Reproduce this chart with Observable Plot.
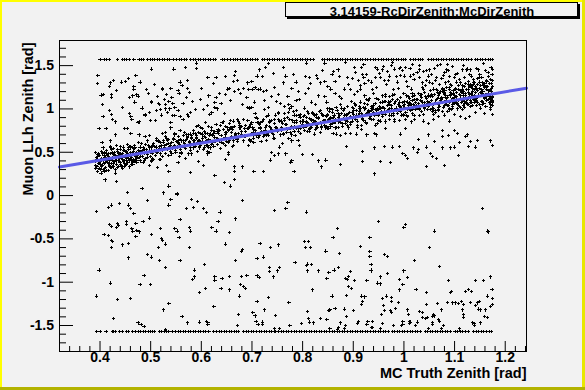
<!DOCTYPE html>
<html><head><meta charset="utf-8">
<script src="https://cdn.jsdelivr.net/npm/d3@7"></script>
<script src="https://cdn.jsdelivr.net/npm/@observablehq/plot@0.6"></script>
<style>body{margin:0;background:#f2f2f2;} #chart{width:585px;height:390px;}</style>
</head><body><div id="chart"></div>
<script>
// ---- data (MC truth zenith x, reconstructed zenith y, rad) ----
const upperRowX = [0.400,0.408,0.413,0.418,0.435,0.444,0.448,0.452,0.458,0.467,0.477,0.481,0.485,0.494,0.499,0.503,0.507,0.513,0.518,0.523,0.528,0.533,0.538,0.546,0.551,0.556,0.561,0.566,0.571,0.579,0.584,0.589,0.594,0.599,0.604,0.609,0.614,0.619,0.624,0.628,0.641,0.646,0.651,0.658,0.663,0.668,0.672,0.677,0.682,0.687,0.692,0.697,0.702,0.707,0.711,0.720,0.725,0.730,0.735,0.740,0.745,0.750,0.755,0.760,0.765,0.770,0.775,0.780,0.785,0.790,0.795,0.800,0.805,0.810,0.815,0.821,0.839,0.844,0.849,0.854,0.859,0.864,0.869,0.874,0.879,0.884,0.889,0.894,0.899,0.904,0.909,0.914,0.919,0.924,0.929,0.934,0.939,0.944,0.950,0.955,0.960,0.965,0.970,0.975,0.980,0.985,0.990,0.995,1.000,1.003,1.013,1.018,1.023,1.028,1.033,1.036,1.049,1.054,1.059,1.064,1.069,1.074,1.079,1.084,1.089,1.094,1.098,1.103,1.108,1.113,1.118,1.123,1.128,1.133,1.141,1.146,1.151,1.156,1.161,1.166,1.171,1.175];
const lowerRowX = [0.393,0.400,0.412,0.424,0.427,0.430,0.438,0.444,0.452,0.456,0.465,0.470,0.475,0.480,0.485,0.490,0.495,0.500,0.504,0.507,0.517,0.522,0.527,0.532,0.536,0.544,0.549,0.554,0.559,0.564,0.569,0.574,0.579,0.584,0.589,0.594,0.599,0.604,0.609,0.615,0.625,0.630,0.635,0.640,0.645,0.650,0.655,0.660,0.665,0.669,0.674,0.684,0.689,0.694,0.699,0.704,0.709,0.714,0.719,0.724,0.729,0.734,0.739,0.744,0.747,0.753,0.758,0.763,0.768,0.773,0.778,0.783,0.788,0.793,0.798,0.803,0.808,0.813,0.818,0.823,0.828,0.833,0.838,0.843,0.848,0.853,0.858,0.863,0.868,0.873,0.878,0.883,0.888,0.894,0.899,0.904,0.909,0.914,0.919,0.924,0.929,0.934,0.939,0.944,0.949,0.954,0.959,0.964,0.970,0.977,0.982,0.987,0.992,0.997,1.002,1.007,1.012,1.017,1.022,1.027,1.032,1.042,1.047,1.052,1.057,1.062,1.067,1.072,1.077,1.082,1.087,1.092,1.101,1.106,1.111,1.116,1.121,1.128,1.138,1.143,1.148,1.153,1.158,1.163,1.168,1.173];
const rowY = [1.5708, -1.5708];

const scatterLow = [[0.552,0.01],[0.423,-0.11],[0.416,-0.14],[0.438,-0.09],[0.456,-0.11],[0.460,-0.15],[0.393,-0.18],[0.467,-0.21],[0.493,-0.06],[0.540,-0.05],[0.536,-0.11],[0.580,-0.05],[0.592,-0.07],[0.570,-0.15],[0.584,-0.14],[0.605,-0.15],[0.611,-0.20],[0.637,-0.19],[0.682,-0.06],[0.745,-0.17],[0.771,-0.08],[0.767,-0.15],[0.497,-0.26],[0.485,-0.30],[0.452,-0.30],[0.452,-0.33],[0.471,-0.32],[0.418,-0.33],[0.434,-0.32],[0.436,-0.34],[0.422,-0.36],[0.432,-0.37],[0.463,-0.38],[0.465,-0.41],[0.473,-0.40],[0.477,-0.42],[0.471,-0.47],[0.408,-0.45],[0.416,-0.465],[0.422,-0.52],[0.424,-0.53],[0.422,-0.60],[0.444,-0.57],[0.456,-0.55],[0.501,-0.45],[0.519,-0.38],[0.548,-0.38],[0.552,-0.41],[0.556,-0.48],[0.558,-0.28],[0.576,-0.37],[0.578,-0.41],[0.621,-0.37],[0.629,-0.41],[0.633,-0.30],[0.655,-0.43],[0.668,-0.27],[0.521,-0.50],[0.523,-0.52],[0.529,-0.56],[0.515,-0.60],[0.576,-0.60],[0.647,-0.56],[0.716,-0.55],[0.737,-0.60],[0.753,-0.57],[0.682,-0.62],[0.680,-0.64],[0.456,-0.72],[0.493,-0.68],[0.501,-0.71],[0.517,-0.75],[0.558,-0.75],[0.529,-0.83],[0.398,-0.86],[0.668,-0.75],[0.710,-0.73],[0.722,-0.71],[0.785,-0.77],[0.735,-0.83],[0.735,-0.88],[0.751,-0.87],[0.755,-0.83],[0.743,-0.94],[0.607,-0.80],[0.586,-0.86],[0.586,-0.94],[0.582,-0.97],[0.487,-0.92],[0.420,-1.01],[0.479,-1.03],[0.499,-1.03],[0.609,-1.07],[0.627,-0.94],[0.627,-0.98],[0.641,-0.96],[0.655,-0.93],[0.639,-1.07],[0.655,-1.09],[0.678,-1.03],[0.684,-1.05],[0.688,-1.07],[0.680,-0.93],[0.690,-0.92],[0.710,-0.92],[0.714,-0.95],[0.676,-1.16],[0.597,-1.12],[0.393,-1.16],[0.434,-1.20],[0.460,-1.19],[0.526,-1.32],[0.536,-1.25],[0.426,-1.42],[0.475,-1.47],[0.481,-1.49],[0.487,-1.51],[0.562,-1.40],[0.572,-1.47],[0.596,-1.46],[0.611,-1.45],[0.613,-1.47],[0.613,-1.49],[0.625,-1.28],[0.674,-1.37],[0.672,-1.50],[0.702,-1.35],[0.706,-1.39],[0.710,-1.22],[0.724,-1.32],[0.732,-1.18],[0.773,-1.23],[0.747,-1.38],[0.708,-1.45],[0.712,-1.49],[0.720,-1.46],[0.720,-1.49],[0.745,-1.53],[0.755,-1.53],[0.775,-1.50],[0.530,-1.55],
[0.808,-0.19],[1.155,-0.15],[1.000,-0.37],[1.003,-0.33],[0.950,-0.30],[0.869,-0.38],[0.860,-0.48],[0.804,-0.53],[0.812,-0.53],[0.806,-0.60],[0.816,-0.60],[1.061,-0.41],[1.165,-0.41],[1.167,-0.42],[0.846,-0.64],[0.873,-0.67],[0.933,-0.48],[0.915,-0.59],[0.933,-0.65],[0.933,-0.70],[0.962,-0.68],[0.968,-0.70],[1.051,-0.60],[1.021,-0.75],[1.070,-0.82],[0.810,-0.79],[0.808,-0.81],[0.818,-0.80],[0.810,-0.87],[0.832,-0.87],[0.852,-0.89],[0.862,-0.86],[0.871,-0.83],[0.895,-0.88],[0.891,-0.93],[0.885,-0.96],[0.889,-0.97],[0.903,-0.98],[0.935,-0.80],[0.935,-0.86],[0.936,-0.87],[0.927,-0.98],[0.948,-1.01],[0.954,-0.94],[0.954,-1.02],[0.968,-0.90],[1.000,-0.87],[0.992,-0.97],[0.998,-1.03],[0.992,-1.09],[1.007,-0.95],[1.024,-1.08],[0.848,-0.96],[0.820,-1.09],[0.858,-1.16],[0.887,-1.15],[0.891,-1.05],[0.897,-1.07],[0.917,-1.16],[0.923,-1.17],[0.919,-1.22],[0.917,-1.26],[0.958,-1.19],[0.966,-1.16],[0.976,-1.18],[0.976,-1.22],[0.984,-1.30],[0.960,-1.27],[0.962,-1.33],[0.956,-1.37],[0.974,-1.33],[0.976,-1.35],[0.990,-1.23],[1.007,-1.32],[1.009,-1.37],[1.031,-1.34],[1.037,-1.35],[1.045,-1.26],[1.045,-1.12],[1.067,-1.25],[1.074,-1.32],[1.088,-0.98],[1.094,-1.11],[1.092,-1.12],[1.086,-1.23],[1.096,-1.24],[1.102,-1.24],[1.108,-1.25],[1.114,-1.22],[1.118,-1.26],[1.116,-1.32],[1.118,-1.37],[1.122,-1.11],[1.128,-1.08],[1.134,-1.11],[1.141,-0.98],[1.132,-1.23],[1.141,-1.27],[1.145,-1.24],[1.149,-1.22],[1.147,-1.31],[1.151,-1.32],[1.157,-0.98],[1.161,-1.32],[1.165,-1.16],[1.171,-1.28],[1.175,-1.26],[1.175,-1.19],[1.174,-1.08],[1.171,-0.94],[1.159,-1.40],[1.165,-1.41],[1.151,-1.47],[1.139,-1.48],[1.139,-1.50],[1.135,-1.47],[1.118,-1.41],[1.110,-1.54],[1.078,-1.50],[1.074,-1.53],[1.068,-1.43],[1.070,-1.45],[1.059,-1.37],[1.057,-1.40],[1.061,-1.39],[1.057,-1.47],[1.057,-1.49],[1.047,-1.41],[1.043,-1.42],[1.037,-1.41],[1.049,-1.53],[1.027,-1.46],[1.023,-1.50],[1.011,-1.45],[1.011,-1.48],[0.998,-1.45],[0.998,-1.49],[0.996,-1.50],[1.013,-1.46],[0.980,-1.50],[0.958,-1.48],[0.938,-1.45],[0.929,-1.45],[0.936,-1.52],[0.938,-1.52],[0.927,-1.49],[0.911,-1.45],[0.909,-1.48],[0.901,-1.33],[0.883,-1.31],[0.887,-1.40],[0.871,-1.52],[0.875,-1.47],[0.883,-1.53],[0.885,-1.50],[0.864,-1.30],[0.852,-1.33],[0.854,-1.32],[0.848,-1.43],[0.836,-1.42],[0.822,-1.47],[0.814,-1.46],[0.812,-1.42],[0.810,-1.34],[0.798,-1.48],[0.854,-1.54],[0.869,-1.55],[0.954,-1.53]];

const scatterHigh = [[0.590,1.53],[0.590,1.47],[0.501,1.46],[0.546,1.46],[0.568,1.48],[0.396,1.39],[0.471,1.39],[0.395,1.29],[0.420,1.30],[0.426,1.33],[0.418,1.26],[0.442,1.31],[0.450,1.32],[0.456,1.35],[0.467,1.26],[0.467,1.23],[0.479,1.31],[0.491,1.22],[0.523,1.24],[0.523,1.22],[0.540,1.24],[0.554,1.21],[0.558,1.31],[0.572,1.33],[0.572,1.24],[0.613,1.36],[0.629,1.36],[0.647,1.37],[0.665,1.39],[0.663,1.32],[0.672,1.33],[0.700,1.32],[0.710,1.38],[0.720,1.37],[0.726,1.48],[0.732,1.52],[0.763,1.48],[0.743,1.41],[0.767,1.38],[0.779,1.24],[0.787,1.31],[0.402,1.16],[0.406,1.17],[0.422,1.17],[0.422,1.13],[0.458,1.13],[0.465,1.15],[0.473,1.17],[0.475,1.14],[0.501,1.09],[0.501,1.07],[0.513,1.14],[0.515,1.06],[0.527,1.11],[0.529,1.05],[0.536,1.09],[0.542,1.13],[0.544,1.06],[0.556,1.18],[0.564,1.06],[0.570,1.13],[0.582,1.09],[0.599,1.11],[0.615,1.15],[0.629,1.13],[0.627,1.07],[0.639,1.06],[0.647,1.17],[0.651,1.23],[0.655,1.24],[0.666,1.20],[0.674,1.22],[0.678,1.18],[0.684,1.24],[0.690,1.13],[0.694,1.22],[0.702,1.22],[0.706,1.25],[0.712,1.22],[0.716,1.23],[0.722,1.20],[0.724,1.10],[0.728,1.21],[0.739,1.14],[0.749,1.09],[0.753,1.17],[0.757,1.06],[0.765,1.03],[0.773,1.05],[0.779,1.03],[0.787,1.10],[0.793,1.11],[0.406,0.91],[0.422,0.94],[0.424,0.88],[0.430,0.85],[0.448,0.77],[0.454,0.77],[0.461,0.91],[0.463,0.88],[0.475,0.84],[0.477,0.85],[0.489,0.94],[0.489,0.92],[0.497,0.96],[0.499,0.87],[0.509,0.87],[0.511,0.98],[0.519,0.99],[0.521,0.93],[0.529,1.00],[0.534,0.96],[0.538,1.00],[0.540,0.84],[0.544,0.92],[0.548,0.92],[0.554,0.98],[0.558,0.91],[0.564,0.88],[0.572,0.94],[0.574,0.91],[0.578,0.96],[0.590,0.80],[0.594,0.81],[0.599,0.79],[0.605,0.99],[0.609,0.84],[0.617,0.94],[0.621,0.96],[0.627,1.02],[0.631,1.00],[0.641,0.84],[0.647,0.80],[0.657,0.87],[0.659,0.79],[0.665,0.80],[0.672,0.88],[0.676,0.83],[0.688,0.81],[0.692,1.02],[0.696,1.01],[0.700,1.02],[0.706,0.95],[0.710,0.84],[0.722,0.88],[0.724,0.99],[0.734,0.80],[0.745,0.83],[0.755,0.87],[0.765,0.87],[0.775,1.00],[0.783,0.93],[0.787,0.87],
[0.808,1.53],[0.844,1.53],[0.885,1.54],[0.903,1.48],[0.917,1.48],[0.921,1.51],[0.944,1.48],[0.948,1.46],[0.958,1.45],[0.968,1.43],[0.978,1.54],[0.982,1.46],[0.994,1.48],[1.003,1.48],[1.017,1.51],[1.031,1.45],[1.039,1.43],[1.051,1.45],[1.061,1.47],[1.072,1.51],[1.084,1.45],[1.086,1.51],[1.126,1.46],[1.132,1.45],[1.157,1.52],[0.806,1.37],[0.814,1.36],[0.828,1.39],[0.830,1.35],[0.844,1.32],[0.850,1.26],[0.864,1.32],[0.873,1.37],[0.899,1.35],[0.911,1.33],[0.921,1.36],[0.923,1.29],[0.936,1.31],[0.944,1.36],[0.954,1.36],[0.962,1.33],[0.972,1.38],[0.986,1.37],[0.994,1.39],[1.001,1.38],[1.013,1.38],[1.019,1.40],[1.031,1.36],[1.037,1.30],[1.045,1.33],[1.051,1.31],[1.065,1.36],[1.078,1.39],[1.088,1.32],[1.100,1.36],[1.104,1.31],[1.112,1.30],[1.120,1.36],[1.128,1.32],[1.132,1.28],[1.141,1.26],[1.149,1.36],[1.163,1.33],[1.175,1.33],[0.806,1.18],[0.818,1.08],[0.832,1.15],[0.844,1.14],[0.856,1.23],[0.864,1.18],[0.873,1.14],[0.883,1.23],[0.895,1.22],[0.903,1.17],[0.915,1.23],[0.923,1.15],[0.927,1.11],[0.940,1.18],[0.950,1.11],[0.964,1.17],[0.972,1.14],[0.982,1.17],[0.990,1.24],[1.000,1.18],[1.009,1.14],[1.015,1.23],[1.021,1.11],[1.033,1.16],[1.039,1.22],[1.049,1.16],[1.059,1.23],[1.067,1.21],[1.076,1.23],[1.082,1.30],[1.092,1.28],[1.098,1.18],[1.108,1.22],[1.118,1.20],[1.128,1.23],[1.136,1.24],[1.145,1.28],[1.153,1.22],[1.163,1.26],[1.173,1.24],[1.175,1.26],[1.174,1.10],
[0.905,1.42],[0.915,1.27],[0.926,1.40],[0.938,1.22],[0.952,1.41],[0.965,1.28],[0.976,1.50],[0.988,1.31],[0.997,1.44],[1.008,1.26],[1.020,1.34],[1.030,1.50],[1.042,1.27],[1.054,1.40],[1.062,1.33],[1.071,1.28],[1.081,1.42],[1.090,1.37],[1.096,1.49],[1.106,1.41],[1.115,1.45],[1.122,1.29],[1.130,1.40],[1.137,1.34],[1.144,1.47],[1.150,1.40],[1.156,1.30],[1.161,1.44],[1.167,1.37],[1.172,1.48],[1.174,1.40],[1.169,1.29],[1.146,1.35],[1.118,1.50],[1.085,1.25],[1.048,1.38],[1.012,1.47],[0.960,1.49],[0.930,1.33],[0.870,1.45],[0.840,1.44],[0.815,1.29],[0.858,1.40],[0.890,1.28],
[0.405,1.05],[0.418,0.98],[0.432,1.21],[0.445,1.02],[0.458,0.95],[0.469,1.08],[0.483,1.01],[0.495,1.18],[0.507,1.28],[0.518,1.05],[0.531,1.17],[0.548,1.02],[0.562,1.27],[0.577,1.19],[0.588,0.99],[0.601,1.24],[0.612,1.04],[0.624,1.29],[0.636,1.18],[0.645,0.95],[0.658,1.10],[0.668,1.43],[0.681,1.05],[0.692,1.30],[0.705,1.08],[0.715,1.45],[0.733,1.02],[0.744,1.25],[0.752,0.96],[0.762,1.30],[0.771,1.14],[0.782,1.40],[0.792,1.20],[0.803,1.01],[0.811,1.24],[0.826,1.05],[0.835,1.30],[0.848,1.08],[0.861,1.43],[0.877,1.12],[0.888,1.36],[0.897,1.09],[0.908,1.20],[0.919,1.40],[0.932,1.12],[0.946,1.25],[0.957,1.15],[0.969,1.33],[0.979,1.22],[0.992,1.47],[1.005,1.32],[1.016,1.18],[1.026,1.42],[1.036,1.25],[1.045,1.44],[1.057,1.29],[1.066,1.50],[1.075,1.35],[1.088,1.44],[1.094,1.27],[1.102,1.40],[1.110,1.34],[1.116,1.27],[1.124,1.45],[1.134,1.38],[1.140,1.30],[1.148,1.45],[1.154,1.36],[1.160,1.29],[1.166,1.42],[1.171,1.34],[1.175,1.46]];

const bandPts = [[0.398,0.77],[0.412,0.77],[0.430,0.70],[0.461,0.72],[0.477,0.70],[0.489,0.68],[0.497,0.69],[0.523,0.72],[0.529,0.73],[0.540,0.78],[0.548,0.72],[0.558,0.75],[0.570,0.70],[0.578,0.71],[0.580,0.69],[0.590,0.66],[0.599,0.72],[0.603,0.70],[0.613,0.72],[0.621,0.75],[0.633,0.72],[0.640,0.65],[0.649,0.73],[0.653,0.75],[0.661,0.76],[0.674,0.72],[0.686,0.77],[0.694,0.78],[0.702,0.79],[0.716,0.77],[0.726,0.75],[0.739,0.73],[0.749,0.77],[0.759,0.75],[0.769,0.73],[0.781,0.78],[0.791,0.79],[0.785,0.69],[0.779,0.63],[0.761,0.60],[0.755,0.56],[0.745,0.66],[0.728,0.64],[0.714,0.69],[0.704,0.61],[0.696,0.64],[0.686,0.69],[0.672,0.65],[0.661,0.57],[0.653,0.50],[0.647,0.58],[0.635,0.63],[0.625,0.57],[0.613,0.58],[0.605,0.53],[0.597,0.57],[0.590,0.60],[0.584,0.63],[0.576,0.61],[0.568,0.64],[0.558,0.65],[0.554,0.61],[0.546,0.56],[0.542,0.61],[0.534,0.64],[0.527,0.58],[0.519,0.61],[0.511,0.64],[0.503,0.58],[0.497,0.57],[0.487,0.53],[0.479,0.56],[0.473,0.50],[0.467,0.54],[0.461,0.57],[0.456,0.55],[0.450,0.51],[0.444,0.49],[0.436,0.48],[0.428,0.50],[0.422,0.53],[0.416,0.49],[0.408,0.46],[0.402,0.42],[0.396,0.47],[0.391,0.50],[0.404,0.61],[0.420,0.63],[0.440,0.57],
[0.398,0.31],[0.408,0.28],[0.410,0.18],[0.430,0.26],[0.420,0.33],[0.448,0.34],[0.460,0.42],[0.473,0.38],[0.485,0.38],[0.497,0.35],[0.501,0.40],[0.513,0.32],[0.519,0.42],[0.531,0.35],[0.536,0.28],[0.554,0.38],[0.568,0.43],[0.578,0.27],[0.580,0.48],[0.594,0.39],[0.605,0.35],[0.613,0.48],[0.617,0.50],[0.627,0.23],[0.647,0.42],[0.653,0.47],[0.666,0.28],[0.666,0.19],[0.665,0.33],[0.682,0.33],[0.704,0.28],[0.722,0.28],[0.737,0.41],[0.745,0.46],[0.753,0.48],[0.767,0.48],[0.777,0.38],[0.779,0.40],[0.783,0.28],[0.739,0.50],[0.432,0.16],[0.454,0.04],[0.483,0.08],[0.525,0.03],[0.536,0.11],[0.552,0.02],[0.645,0.15],[0.657,0.11],
[0.795,0.94],[0.802,0.91],[0.812,0.95],[0.820,0.96],[0.828,0.94],[0.836,0.98],[0.848,0.92],[0.854,1.00],[0.866,1.02],[0.875,1.05],[0.883,1.00],[0.889,0.94],[0.901,1.00],[0.905,1.05],[0.913,1.01],[0.921,1.02],[0.931,0.98],[0.938,1.02],[0.950,0.99],[0.958,1.02],[0.964,1.09],[0.972,1.00],[0.980,0.93],[0.986,0.98],[0.994,1.03],[1.001,1.05],[1.011,1.07],[1.017,1.00],[1.027,1.03],[1.035,1.09],[1.041,1.00],[1.047,1.06],[1.057,1.01],[1.063,0.96],[1.068,1.02],[1.074,1.07],[1.082,1.09],[1.090,0.99],[1.096,1.05],[1.104,1.06],[1.114,1.11],[1.120,1.06],[1.128,1.05],[1.134,1.08],[1.145,1.07],[1.155,1.05],[1.167,1.11],[1.175,1.13],[1.175,1.07],[1.175,0.94],[1.171,0.99],[1.159,0.95],[1.151,1.01],[1.141,0.96],[1.130,0.91],[1.122,0.89],[1.112,0.91],[1.100,0.94],[1.090,0.86],[1.080,0.93],[1.068,0.91],[1.059,0.88],[1.049,0.83],[1.039,0.86],[1.031,0.92],[1.021,0.88],[1.015,0.85],[1.007,0.91],[1.000,0.92],[0.992,0.87],[0.982,0.86],[0.972,0.88],[0.964,0.85],[0.954,0.86],[0.944,0.81],[0.935,0.88],[0.925,0.84],[0.917,0.81],[0.909,0.79],[0.899,0.86],[0.889,0.81],[0.879,0.80],[0.871,0.85],[0.864,0.78],[0.856,0.80],[0.848,0.80],[0.838,0.83],[0.828,0.81],[0.818,0.79],[0.808,0.84],[0.800,0.86],[0.795,0.77],[0.804,0.75],[0.814,0.76],[0.824,0.71],[0.836,0.73],[0.850,0.77],[0.860,0.72],[0.867,0.71],[0.875,0.69],[0.885,0.72],[0.895,0.72],[0.907,0.71],[0.917,0.76],[0.927,0.70],[0.942,0.72],[0.946,0.70],[0.964,0.77],[0.994,0.71],[1.003,0.77],[1.029,0.65],[1.045,0.56],[1.049,0.70],[1.061,0.62],[1.053,0.49],[1.057,0.45],[1.076,0.75],[1.076,0.68],[1.088,0.69],[1.100,0.75],[1.106,0.72],[1.122,0.68],[1.126,0.70],[1.145,0.64],[1.132,0.62],[1.110,0.61],[1.100,0.56],[1.092,0.55],[1.076,0.55],[1.065,0.43],[1.045,0.34],[1.080,0.35],[1.108,0.46],[1.128,0.57],[1.141,0.56],[1.171,0.63],[1.175,0.58],[0.791,0.64],[0.800,0.47],[0.820,0.47],[0.832,0.40],[0.846,0.41],[0.838,0.33],[0.875,0.36],[0.887,0.57],[0.919,0.51],[0.919,0.39],[0.942,0.55],[0.942,0.25],[0.954,0.39],[0.962,0.57],[0.974,0.38],[0.978,0.56],[0.992,0.57],[0.998,0.49],[1.003,0.46],[1.007,0.43],[1.019,0.55],[1.027,0.50],[1.029,0.53],[0.794,0.58]];

const corePts = [[0.391,0.39],[0.393,0.44],[0.394,0.33],[0.396,0.41],[0.397,0.37],[0.399,0.46],[0.400,0.30],[0.401,0.39],[0.403,0.43],[0.404,0.35],[0.405,0.48],[0.407,0.40],[0.408,0.37],[0.410,0.44],[0.411,0.32],[0.412,0.41],[0.414,0.38],[0.415,0.46],[0.417,0.43],[0.418,0.35],[0.419,0.40],[0.421,0.49],[0.422,0.37],[0.424,0.44],[0.425,0.41],[0.426,0.33],[0.428,0.47],[0.429,0.39],[0.431,0.43],[0.432,0.36],[0.434,0.45],[0.435,0.51],[0.437,0.40],[0.438,0.43],[0.440,0.38],[0.441,0.47],[0.443,0.34],[0.444,0.42],[0.446,0.45],[0.447,0.39],[0.449,0.52],[0.450,0.44],[0.452,0.41],[0.453,0.36],[0.455,0.48],[0.456,0.43],[0.458,0.46],[0.459,0.40],[0.461,0.50],[0.462,0.44],[0.464,0.38],[0.465,0.47],[0.467,0.42],[0.468,0.54],[0.470,0.45],[0.471,0.49],[0.473,0.41],[0.474,0.46],[0.476,0.52],[0.477,0.44],[0.479,0.48],
[0.395,0.28],[0.402,0.26],[0.409,0.31],[0.416,0.29],[0.423,0.32],[0.430,0.30],[0.437,0.34],[0.444,0.31],[0.451,0.35],[0.458,0.33],[0.465,0.36],[0.406,0.55],[0.413,0.52],[0.420,0.57],[0.427,0.54],[0.433,0.58],[0.440,0.53],[0.447,0.56],[0.454,0.59],[0.461,0.55],[0.468,0.58],
[0.481,0.51],[0.483,0.45],[0.485,0.55],[0.487,0.49],[0.489,0.43],[0.491,0.53],[0.493,0.47],[0.495,0.58],[0.497,0.51],[0.499,0.45],[0.501,0.55],[0.503,0.49],[0.505,0.60],[0.507,0.52],[0.509,0.46],[0.511,0.56],[0.513,0.50],[0.515,0.62],[0.517,0.54],[0.519,0.48],[0.521,0.58],[0.523,0.52],[0.525,0.63],[0.527,0.55],[0.529,0.49],[0.531,0.59],[0.533,0.53],[0.535,0.65],[0.537,0.57],[0.539,0.51],[0.541,0.61],[0.543,0.55],[0.545,0.66],[0.547,0.58],[0.549,0.52],[0.551,0.62],[0.553,0.56],[0.555,0.68],[0.557,0.59],[0.559,0.53],[0.561,0.63],[0.563,0.57],[0.565,0.69],[0.567,0.60],[0.569,0.54],[0.571,0.65],[0.573,0.58],[0.575,0.70],[0.577,0.62],[0.579,0.55],[0.581,0.66],[0.583,0.59],[0.585,0.72],[0.587,0.63],[0.589,0.57],[0.591,0.67],[0.593,0.61],[0.595,0.73],[0.597,0.64],[0.599,0.58],
[0.603,0.62],[0.607,0.68],[0.611,0.58],[0.615,0.65],[0.619,0.71],[0.623,0.61],[0.627,0.67],[0.631,0.74],[0.635,0.64],[0.639,0.69],[0.643,0.60],[0.647,0.70],[0.651,0.66],[0.655,0.76],[0.659,0.68],[0.663,0.63],[0.667,0.72],[0.671,0.67],[0.675,0.78],[0.679,0.70],[0.683,0.64],[0.687,0.74],[0.691,0.69],[0.695,0.80],[0.699,0.72],[0.703,0.66],[0.707,0.75],[0.711,0.71],[0.715,0.82],[0.719,0.74],[0.723,0.68],[0.727,0.78],[0.731,0.72],[0.735,0.84],[0.739,0.76],[0.743,0.70],[0.747,0.79],[0.751,0.74],[0.755,0.86],[0.759,0.78],[0.763,0.72],[0.767,0.82],[0.771,0.76],[0.775,0.88],[0.779,0.80],[0.783,0.74],[0.787,0.84],[0.791,0.78],[0.795,0.90],[0.799,0.82],
[0.802,0.86],[0.805,0.80],[0.808,0.90],[0.811,0.83],[0.814,0.77],[0.817,0.88],[0.820,0.82],[0.823,0.93],[0.826,0.85],[0.829,0.79],[0.832,0.89],[0.835,0.84],[0.838,0.95],[0.841,0.87],[0.844,0.81],[0.847,0.91],[0.850,0.86],[0.853,0.97],[0.856,0.89],[0.859,0.83],[0.862,0.93],[0.865,0.88],[0.868,0.98],[0.871,0.90],[0.874,0.84],[0.877,0.95],[0.880,0.89],[0.883,1.00],[0.886,0.92],[0.889,0.86],[0.892,0.96],[0.895,0.91],[0.898,1.02],[0.901,0.94],[0.904,0.88],[0.907,0.98],[0.910,0.93],[0.913,1.03],[0.916,0.95],[0.919,0.89],[0.922,1.00],[0.925,0.94],[0.928,1.05],[0.931,0.97],[0.934,0.91],[0.937,1.01],[0.940,0.96],[0.943,1.06],[0.946,0.98],[0.949,0.92],[0.952,1.03],[0.955,0.97],[0.958,1.08],[0.961,1.00],[0.964,0.94],[0.967,1.04],[0.970,0.99],[0.973,1.09],[0.976,1.01],[0.979,0.95],[0.982,1.06],[0.985,1.00],[0.988,1.11],[0.991,1.03],[0.994,0.97],[0.997,1.07],
[1.001,1.02],[1.004,0.96],[1.007,1.08],[1.010,1.04],[1.013,0.98],[1.016,1.10],[1.019,1.05],[1.022,0.99],[1.025,1.11],[1.028,1.06],[1.031,1.01],[1.034,1.13],[1.037,1.08],[1.040,1.02],[1.043,1.14],[1.046,1.09],[1.049,1.03],[1.052,1.15],[1.055,1.10],[1.058,1.05],[1.061,1.17],[1.064,1.11],[1.067,1.06],[1.070,1.18],[1.073,1.12],[1.076,1.07],[1.079,1.19],[1.082,1.13],[1.085,1.08],[1.088,1.04],[1.091,1.15],[1.094,1.10],[1.097,1.21],[1.100,1.16],[1.103,1.11],[1.106,1.06],[1.109,1.17],[1.112,1.12],[1.115,1.23],[1.118,1.18],[1.121,1.13],[1.124,1.08],[1.127,1.19],[1.130,1.14],[1.133,1.25],[1.136,1.20],[1.139,1.15],[1.142,1.10],[1.145,1.21],[1.148,1.16],[1.151,1.27],[1.154,1.22],[1.157,1.17],[1.160,1.12],[1.163,1.23],[1.166,1.18],[1.169,1.07],[1.172,1.20],[1.174,1.14],[1.068,0.98],[1.090,1.00],[1.112,1.02],[1.135,1.04],[1.158,1.06],[1.171,1.02],[1.080,1.04],[1.100,1.06],[1.120,1.09],[1.142,1.12],[1.164,1.14]];

const corePts2 = [[0.801,0.79],[0.804,0.92],[0.807,0.85],[0.810,0.74],[0.813,0.89],[0.816,0.81],[0.819,0.95],[0.822,0.87],[0.825,0.76],[0.828,0.90],[0.831,0.83],[0.834,0.97],[0.837,0.80],[0.840,0.92],[0.843,0.86],[0.846,0.78],[0.849,0.94],[0.852,0.88],[0.855,0.82],[0.858,0.99],[0.861,0.90],[0.864,0.85],[0.867,0.79],[0.870,0.95],[0.873,0.88],[0.876,1.01],[0.879,0.83],[0.882,0.93],[0.885,0.87],[0.888,1.03],[0.891,0.95],[0.894,0.84],[0.897,0.90],[0.900,0.98],[0.903,1.06],[0.906,0.93],[0.909,0.86],[0.912,0.97],[0.915,1.08],[0.918,0.92],[0.921,0.87],[0.924,1.01],[0.927,0.95],[0.930,1.10],[0.933,0.89],[0.936,0.98],[0.939,1.04],[0.942,0.93],[0.945,1.12],[0.948,1.00],[0.951,0.95],[0.954,1.07],[0.957,0.91],[0.960,1.02],[0.963,1.14],[0.966,0.97],[0.969,1.08],[0.972,0.93],[0.975,1.04],[0.978,1.16],[0.981,0.99],[0.984,1.09],[0.987,0.95],[0.990,1.05],[0.993,1.13],[0.996,1.01],[0.999,0.94],
[1.002,1.09],[1.005,1.15],[1.008,0.99],[1.011,1.12],[1.014,1.05],[1.017,0.95],[1.020,1.16],[1.023,1.07],[1.026,1.01],[1.029,1.18],[1.032,1.10],[1.035,0.97],[1.038,1.04],[1.041,1.19],[1.044,1.12],[1.047,0.99],[1.050,1.07],[1.053,1.21],[1.056,1.14],[1.059,1.00],[1.062,1.08],[1.065,1.22],[1.068,1.15],[1.071,1.03],[1.074,1.11],[1.077,1.24],[1.080,1.17],[1.083,1.05],[1.086,1.13],[1.089,1.25],[1.092,1.19],[1.095,1.01],[1.098,1.08],[1.101,1.22],[1.104,1.14],[1.107,1.27],[1.110,1.03],[1.113,1.19],[1.116,1.10],[1.119,1.26],[1.122,1.16],[1.125,1.05],[1.128,1.28],[1.131,1.10],[1.134,1.18],[1.137,1.30],[1.140,1.07],[1.143,1.24],[1.146,1.13],[1.149,1.31],[1.152,1.19],[1.155,1.09],[1.158,1.27],[1.161,1.16],[1.164,1.32],[1.167,1.21],[1.170,1.12],[1.173,1.29],[1.175,1.17],
[0.482,0.60],[0.488,0.40],[0.494,0.63],[0.500,0.50],[0.506,0.42],[0.512,0.66],[0.518,0.57],[0.524,0.45],[0.530,0.68],[0.536,0.60],[0.542,0.48],[0.548,0.70],[0.554,0.64],[0.560,0.50],[0.566,0.73],[0.572,0.67],[0.578,0.52],[0.584,0.75],[0.590,0.69],[0.596,0.55],[0.602,0.77],[0.608,0.72],[0.614,0.56],[0.620,0.79],[0.626,0.74],[0.632,0.59],[0.638,0.81],[0.644,0.76],[0.650,0.62],[0.656,0.83],[0.662,0.78],[0.668,0.66],[0.674,0.85],[0.680,0.80],[0.686,0.68],[0.692,0.87],[0.698,0.82],[0.704,0.70],[0.710,0.89],[0.716,0.84],[0.722,0.72],[0.728,0.91],[0.734,0.86],[0.740,0.74],[0.746,0.93],[0.752,0.88],[0.758,0.76],[0.764,0.95],[0.770,0.90],[0.776,0.78],[0.782,0.97],[0.788,0.92],[0.794,0.80]];

const corePts3 = [[0.392,0.31],[0.396,0.45],[0.399,0.39],[0.403,0.51],[0.406,0.30],[0.410,0.42],[0.413,0.49],[0.417,0.37],[0.420,0.55],[0.424,0.34],[0.427,0.47],[0.431,0.43],[0.434,0.53],[0.438,0.39],[0.441,0.49],[0.445,0.33],[0.448,0.37],[0.452,0.51],[0.455,0.44],[0.459,0.57],[0.462,0.36],[0.466,0.48],[0.469,0.55],[0.473,0.43],[0.476,0.61],[0.480,0.40],[0.483,0.52],[0.487,0.49],[0.490,0.59],[0.494,0.44],[0.497,0.55],[0.501,0.39],[0.504,0.43],[0.508,0.57],[0.511,0.50],[0.515,0.64],[0.518,0.42],[0.522,0.54],[0.525,0.61],[0.529,0.49],[0.532,0.66],[0.536,0.46],[0.539,0.58],[0.543,0.55],[0.546,0.65],[0.550,0.50],[0.553,0.61],[0.557,0.45],[0.560,0.49],[0.564,0.63],[0.567,0.56],[0.571,0.70],[0.574,0.48],[0.578,0.60],[0.581,0.67],[0.585,0.55],[0.588,0.72],[0.592,0.51],[0.595,0.64],[0.599,0.61],[0.602,0.71],[0.606,0.56],[0.609,0.67],[0.613,0.51],
[0.618,0.55],[0.623,0.69],[0.628,0.62],[0.633,0.76],[0.638,0.54],[0.643,0.66],[0.648,0.73],[0.653,0.61],[0.658,0.79],[0.663,0.58],[0.668,0.71],[0.673,0.67],[0.678,0.78],[0.683,0.63],[0.688,0.74],[0.693,0.58],[0.698,0.62],[0.703,0.76],[0.708,0.69],[0.713,0.84],[0.718,0.62],[0.723,0.74],[0.728,0.81],[0.733,0.69],[0.738,0.87],[0.743,0.66],[0.748,0.79],[0.753,0.75],[0.758,0.86],[0.763,0.71],[0.768,0.82],[0.773,0.66],[0.778,0.70],[0.783,0.84],[0.788,0.77],[0.793,0.92],
[0.796,0.72],[0.800,0.86],[0.803,0.92],[0.807,0.80],[0.810,0.97],[0.814,0.74],[0.817,0.87],[0.821,0.84],[0.824,0.94],[0.828,0.78],[0.831,0.90],[0.835,0.73],[0.838,0.78],[0.842,0.92],[0.845,0.86],[0.849,1.00],[0.852,0.77],[0.856,0.90],[0.859,0.96],[0.863,0.84],[0.866,1.02],[0.870,0.79],[0.873,0.92],[0.877,0.88],[0.880,0.98],[0.884,0.83],[0.887,0.94],[0.891,0.78],[0.894,0.82],[0.898,0.96],[0.901,0.90],[0.905,1.04],[0.908,0.81],[0.912,0.93],[0.915,1.00],[0.919,0.88],[0.922,1.06],[0.926,0.83],[0.929,0.96],[0.933,0.93],[0.936,1.03],[0.940,0.88],[0.943,0.99],[0.947,0.83],[0.950,0.87],[0.954,1.01],[0.957,0.94],[0.961,1.09],[0.964,0.86],[0.968,0.98],[0.971,1.05],[0.975,0.93],[0.978,1.11],[0.982,0.88],[0.985,1.01],[0.989,0.98],[0.992,1.08],[0.996,0.93],[0.999,1.04],
[1.003,0.88],[1.006,0.92],[1.010,1.06],[1.013,0.99],[1.017,1.14],[1.020,0.92],[1.024,1.04],[1.027,1.11],[1.031,0.99],[1.034,1.17],[1.038,0.94],[1.041,1.07],[1.045,1.04],[1.048,1.14],[1.052,0.99],[1.055,1.10],[1.059,0.94],[1.062,0.98],[1.066,1.12],[1.069,1.05],[1.073,1.20],[1.076,0.97],[1.080,1.09],[1.083,1.16],[1.087,1.04],[1.090,1.22],[1.094,0.99],[1.097,1.12],[1.101,1.09],[1.104,1.19],[1.108,1.04],[1.111,1.15],[1.115,0.99],[1.118,1.04],[1.122,1.18],[1.125,1.11],[1.129,1.26],[1.132,1.03],[1.136,1.15],[1.139,1.22],[1.143,1.10],[1.146,1.28],[1.150,1.05],[1.153,1.18],[1.157,1.15],[1.160,1.25],[1.164,1.10],[1.167,1.21],[1.171,1.05],[1.174,1.09],
[1.051,1.05],[1.054,1.17],[1.057,0.97],[1.063,1.07],[1.066,1.19],[1.069,0.99],[1.072,1.10],[1.075,1.13],[1.078,1.02],[1.081,1.21],[1.084,1.12],[1.087,0.97],[1.090,1.07],[1.093,1.17],[1.096,1.03],[1.099,1.13],[1.102,1.24],[1.105,1.00],[1.108,1.10],[1.111,1.21],[1.114,1.07],[1.117,1.15],[1.120,1.02],[1.123,1.22],[1.126,1.12],[1.129,1.17],[1.132,1.07],[1.135,1.27],[1.138,1.11],[1.141,1.19],[1.144,1.04],[1.147,1.14],[1.150,1.24],[1.153,1.09],[1.156,1.20],[1.159,1.13],[1.162,1.03],[1.165,1.26],[1.168,1.15],[1.171,1.22],[1.173,1.11],[1.175,1.04],
[0.392,0.35],[0.394,0.42],[0.397,0.48],[0.400,0.36],[0.403,0.33],[0.405,0.42],[0.408,0.50],[0.411,0.38],[0.413,0.29],[0.416,0.45],[0.419,0.34],[0.421,0.42],[0.424,0.50],[0.427,0.37],[0.430,0.46],[0.433,0.40],[0.435,0.32],[0.438,0.48],[0.441,0.36],[0.443,0.44],[0.446,0.52],[0.449,0.40],[0.452,0.47],[0.455,0.38],[0.457,0.53],[0.460,0.45],[0.463,0.41],[0.466,0.51],[0.469,0.39],[0.471,0.46]];

const midPts = [[0.602,0.66],[0.606,0.74],[0.610,0.63],[0.614,0.80],[0.617,0.69],[0.621,0.59],[0.625,0.72],[0.629,0.82],[0.632,0.66],[0.636,0.75],[0.640,0.61],[0.644,0.85],[0.648,0.67],[0.652,0.78],[0.656,0.64],[0.660,0.73],[0.664,0.86],[0.668,0.69],[0.672,0.62],[0.676,0.81],[0.680,0.74],[0.684,0.88],[0.688,0.68],[0.692,0.77],[0.696,0.65],[0.700,0.84],[0.704,0.73],[0.708,0.90],[0.712,0.67],[0.716,0.79],[0.720,0.86],[0.724,0.71],[0.728,0.69],[0.732,0.93],[0.736,0.79],[0.740,0.72],[0.744,0.88],[0.748,0.75],[0.752,0.95],[0.756,0.70],[0.760,0.83],[0.764,0.89],[0.768,0.77],[0.772,0.96],[0.776,0.73],[0.780,0.87],[0.784,0.80],[0.788,0.98],[0.792,0.74],[0.796,0.85]];

// fit line end points
const fitX = [0.320, 1.242];
const fitY = [0.329, 1.240];

// axis ticks
const xMajor = [0.4, 0.5, 0.6, 0.7, 0.8, 0.9, 1, 1.1, 1.2];
const xMinor = [0.34,0.36,0.38,0.42,0.44,0.46,0.48,0.52,0.54,0.56,0.58,0.62,0.64,0.66,0.68,0.72,0.74,0.76,0.78,0.82,0.84,0.86,0.88,0.92,0.94,0.96,0.98,1.02,1.04,1.06,1.08,1.12,1.14,1.16,1.18,1.22,1.24];
const yMajor = [-1.5, -1, -0.5, 0, 0.5, 1, 1.5];
const yMinor = [-1.7,-1.6,-1.4,-1.3,-1.2,-1.1,-0.9,-0.8,-0.7,-0.6,-0.4,-0.3,-0.2,-0.1,0.1,0.2,0.3,0.4,0.6,0.7,0.8,0.9,1.1,1.2,1.3,1.4,1.6,1.7];

const titleText = "3.14159-RcDirZenith:McDirZenith";
const xTitle = "MC Truth Zenith [rad]";
const yTitle = "Muon LLh Zenith [rad]";

// ---- build ----
const points = [
  ...upperRowX.map(x => ({x, y: rowY[0]})),
  ...lowerRowX.map(x => ({x, y: rowY[1]})),
  ...[scatterLow, scatterHigh, bandPts, corePts, corePts2, corePts3, midPts].flat().map(([x, y]) => ({x, y}))
];
const fit = fitX.map((x, i) => ({x, y: fitY[i]}));

const plusSymbol = {
  draw(ctx, size) {
    const r = Math.sqrt(size / Math.PI);
    ctx.moveTo(-r, 0); ctx.lineTo(r, 0);
    ctx.moveTo(0, -r); ctx.lineTo(0, r);
  }
};

const FONT = "Liberation Sans, Arial, Helvetica, sans-serif";

const chart = Plot.plot({
  width: 585, height: 390,
  marginLeft: 59, marginRight: 59, marginTop: 40, marginBottom: 39,
  style: {background: "#f2f2f2", fontFamily: FONT, color: "black"},
  x: {domain: [0.32, 1.242], axis: null},
  y: {domain: [-1.8, 1.79], axis: null},
  marks: [
    Plot.dot(points, {x: "x", y: "y", symbol: plusSymbol, r: 1.6, fill: "none", stroke: "black", strokeWidth: 1, shapeRendering: "crispEdges"}),
    Plot.line(fit, {x: "x", y: "y", stroke: "#5a5ae6", strokeWidth: 3}),
    Plot.frame({stroke: "black", strokeWidth: 1}),
    Plot.axisY(yMajor, {anchor: "left", label: null, tickSize: -14, tickFormat: () => "", strokeWidth: 1}),
    Plot.axisY(yMinor, {anchor: "left", label: null, tickSize: -7, tickFormat: () => "", strokeWidth: 1}),
    Plot.axisX(xMajor, {anchor: "bottom", label: null, tickSize: -10, tickFormat: () => "", strokeWidth: 1}),
    Plot.axisX(xMinor, {anchor: "bottom", label: null, tickSize: -5, tickFormat: () => "", strokeWidth: 1}),
    Plot.text(yMajor, {y: d => d, frameAnchor: "left", text: d => String(d), textAnchor: "end", dx: -5.5, fontSize: 14, fontWeight: "bold", fill: "black"}),
    Plot.text(xMajor, {x: d => d, frameAnchor: "bottom", text: d => String(d), dy: 10, fontSize: 14, fontWeight: "bold", fill: "black"}),
    Plot.text([xTitle], {frameAnchor: "bottom-right", text: d => d, textAnchor: "end", dy: 26, fontSize: 14.5, fontWeight: "bold", fill: "black"}),
    Plot.text([yTitle], {frameAnchor: "top-left", text: d => d, textAnchor: "end", rotate: -90, dx: -37, dy: 2, fontSize: 14.5, fontWeight: "bold", fill: "black"}),
    Plot.text([titleText], {frameAnchor: "top-right", text: d => d, textAnchor: "middle", dx: -94.5, dy: -33.5, fontSize: 13, fontWeight: "bold", fill: "black"})
  ]
});
document.getElementById("chart").appendChild(chart);

// ---- decorations: title pave and canvas border ----
const svg = d3.select(chart);
const deco = svg.insert("g", ":first-child");
deco.append("rect").attr("x", 287).attr("y", 4).attr("width", 293).attr("height", 15).attr("fill", "black");
deco.append("rect").attr("x", 285.5).attr("y", 2.5).attr("width", 292).attr("height", 14).attr("fill", "#f2f2f2").attr("stroke", "black");
const border = svg.append("g");
border.append("rect").attr("x", 0).attr("y", 0).attr("width", 585).attr("height", 2).attr("fill", "#ffff00");
border.append("rect").attr("x", 0).attr("y", 0).attr("width", 2).attr("height", 390).attr("fill", "#ffff00");
border.append("rect").attr("x", 582).attr("y", 0).attr("width", 3).attr("height", 390).attr("fill", "#e8e800");
border.append("rect").attr("x", 0).attr("y", 387).attr("width", 585).attr("height", 3).attr("fill", "#b3b300");
</script>
</body></html>
